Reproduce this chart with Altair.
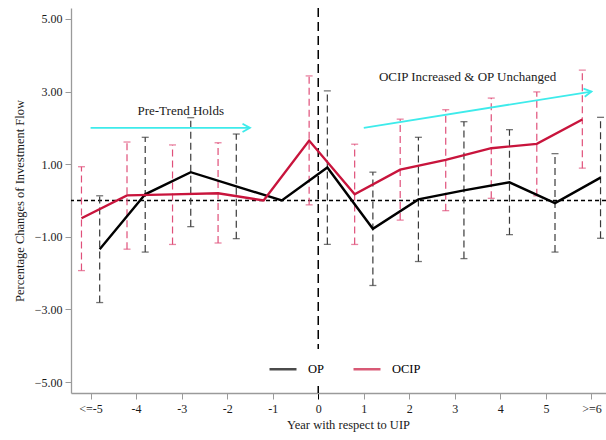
import json
import math

import altair as alt
import pandas as pd

# Event-study estimates relative to the UIP year (reference year -1 fixed at 0)
years = [-5, -4, -3, -2, -1, 0, 1, 2, 3, 4, 5, 6]
year_labels = ["<=-5", "-4", "-3", "-2", "-1", "0", "1", "2", "3", "4", "5", ">=6"]

op_est = [-1.34, 0.17, 0.78, 0.39, 0.0, 0.91, -0.78, 0.03, 0.28, 0.50, -0.07, 0.63]
op_lo = [-2.81, -1.42, -0.72, -1.05, None, -1.21, -2.34, -1.68, -1.60, -0.94, -1.42, -1.04]
op_hi = [0.13, 1.74, 2.28, 1.83, None, 3.02, 0.78, 1.74, 2.17, 1.95, 1.29, 2.29]

ocip_est = [-0.49, 0.14, 0.17, 0.20, 0.0, 1.65, 0.17, 0.85, 1.12, 1.44, 1.56, 2.23]
ocip_lo = [-1.93, -1.34, -1.21, -1.17, None, -0.12, -1.21, -0.54, -0.28, 0.06, 0.13, 0.89]
ocip_hi = [0.93, 1.61, 1.53, 1.59, None, 3.43, 1.55, 2.24, 2.50, 2.82, 2.99, 3.59]

series_names = ["OP", "OCIP"]
series_colors = ["#000000", "#C8143C"]
interval_colors = ["#3a3a3a", "#E0507A"]
series_shift = [0.2, -0.2]

# Annotations: text labels and arrows (start -> end in data units)
note_texts = ["Pre-Trend Holds", "OCIP Increased & OP Unchanged"]
note_x = [-3.02, 3.28]
note_y = [2.47, 3.39]
arrow_x = [-5.0, 1.0]
arrow_y = [2.0, 2.0]
arrow_x2 = [-1.5, 6.0]
arrow_y2 = [2.0, 3.0]

X_DOMAIN = [-5.43, 6.32]
Y_DOMAIN = [-5.3, 5.3]
W, H = 535, 385
FONT = "Liberation Serif"

rows = []
for name, est, lo, hi, shift, icol in [
    ("OP", op_est, op_lo, op_hi, series_shift[0], interval_colors[0]),
    ("OCIP", ocip_est, ocip_lo, ocip_hi, series_shift[1], interval_colors[1]),
]:
    for yr, e, l, h in zip(years, est, lo, hi):
        rows.append({"series": name, "x": yr + shift, "est": e, "lo": l, "hi": h, "icol": icol})
df = pd.DataFrame(rows)
df_ci = df.dropna(subset=["lo", "hi"])

xs = alt.Scale(domain=X_DOMAIN, nice=False, zero=False)
ys = alt.Scale(domain=Y_DOMAIN, nice=False, zero=False)

label_expr = json.dumps(year_labels) + "[datum.value + 5]"

x_axis = alt.Axis(
    values=years, labelExpr=label_expr, title="Year with respect to UIP",
    tickSize=6, labelPadding=4, grid=False, domainColor="#9a9a9a", domainWidth=1.3,
    tickColor={"condition": {"test": "datum.value == 0", "value": "#000000"}, "value": "#9a9a9a"},
    labelFontSize=12, titleFontSize=12.5, titleFontWeight="normal",
    titleX=(348 - 71), titlePadding=4,
)
y_axis = alt.Axis(
    values=[-5, -3, -1, 1, 3, 5], format=".2f", title="Percentage Changes of Investment Flow",
    tickSize=6, labelPadding=3, grid=False, domainColor="#9a9a9a", domainWidth=1.3,
    tickColor="#9a9a9a", labelFontSize=12, titleFontSize=12.5, titleFontWeight="normal",
    titlePadding=8,
)

zero_line = alt.Chart(pd.DataFrame({"y": [0.0]})).mark_rule(
    color="#000000", strokeWidth=1.3, strokeDash=[4, 3]
).encode(y=alt.Y("y:Q", scale=ys, axis=y_axis))

uip_line = alt.Chart(pd.DataFrame({"x": [0.0]})).mark_rule(
    color="#000000", strokeWidth=1.5, strokeDash=[9, 5]
).encode(x=alt.X("x:Q", scale=xs, axis=x_axis))

ci_bars = alt.Chart(df_ci).mark_rule(strokeWidth=1.2, strokeDash=[7, 4]).encode(
    x=alt.X("x:Q", scale=xs),
    y=alt.Y("lo:Q", scale=ys),
    y2="hi:Q",
    color=alt.Color("icol:N", scale=None),
)
cap_hi = alt.Chart(df_ci).mark_tick(orient="horizontal", size=7, thickness=1.3).encode(
    x=alt.X("x:Q", scale=xs), y=alt.Y("hi:Q", scale=ys), color=alt.Color("icol:N", scale=None)
)
cap_lo = alt.Chart(df_ci).mark_tick(orient="horizontal", size=7, thickness=1.3).encode(
    x=alt.X("x:Q", scale=xs), y=alt.Y("lo:Q", scale=ys), color=alt.Color("icol:N", scale=None)
)

lines = alt.Chart(df).mark_line(strokeWidth=2.4).encode(
    x=alt.X("x:Q", scale=xs),
    y=alt.Y("est:Q", scale=ys),
    color=alt.Color(
        "series:N",
        scale=alt.Scale(domain=series_names, range=series_colors),
        sort=series_names,
        legend=alt.Legend(
            orient="none", legendX=192, legendY=341, direction="horizontal", title=None,
            symbolType="stroke", symbolSize=729, symbolStrokeWidth=2.5,
            labelFont=FONT, labelFontSize=12.5, labelColor="#000000", labelOffset=10,
            columnPadding=24, fillColor="white", padding=5,
        ),
    ),
)

# Arrow heads point along each arrow in screen space
px_x = W / (X_DOMAIN[1] - X_DOMAIN[0])
px_y = H / (Y_DOMAIN[1] - Y_DOMAIN[0])
angles = []
for x0, y0, x1, y1 in zip(arrow_x, arrow_y, arrow_x2, arrow_y2):
    a = math.degrees(math.atan2(-(y1 - y0) * px_y, (x1 - x0) * px_x))
    angles.append(a % 360)
arrows_df = pd.DataFrame({"x": arrow_x, "y": arrow_y, "x2": arrow_x2, "y2": arrow_y2, "angle": angles})

arrow_shafts = alt.Chart(arrows_df).mark_rule(color="#3EEBEB", strokeWidth=1.8).encode(
    x=alt.X("x:Q", scale=xs), y=alt.Y("y:Q", scale=ys), x2="x2:Q", y2="y2:Q"
)
arrow_heads = alt.Chart(arrows_df).mark_point(
    shape="M -1 -0.55 L 0 0 L -1 0.55", filled=False, color="#3EEBEB", strokeWidth=1.8, size=220, opacity=1
).encode(
    x=alt.X("x2:Q", scale=xs), y=alt.Y("y2:Q", scale=ys),
    angle=alt.Angle("angle:Q", scale=None),
)

notes = alt.Chart(pd.DataFrame({"x": note_x, "y": note_y, "t": note_texts})).mark_text(
    font=FONT, fontSize=13, color="#1a1a1a", baseline="middle", align="center"
).encode(x=alt.X("x:Q", scale=xs), y=alt.Y("y:Q", scale=ys), text="t:N")

chart = alt.layer(
    zero_line, uip_line, ci_bars, cap_hi, cap_lo, arrow_shafts, arrow_heads, notes, lines
).properties(
    width=W, height=H,
    autosize=alt.AutoSizeParams(type="none"),
    padding={"left": 71, "top": 8, "right": 0, "bottom": 47},
    background="white",
).configure_view(stroke=None).configure_axis(
    labelFont=FONT, titleFont=FONT, labelColor="#1a1a1a", titleColor="#1a1a1a"
)

chart.save("out.html", embed_options={"renderer": "svg", "actions": False})
